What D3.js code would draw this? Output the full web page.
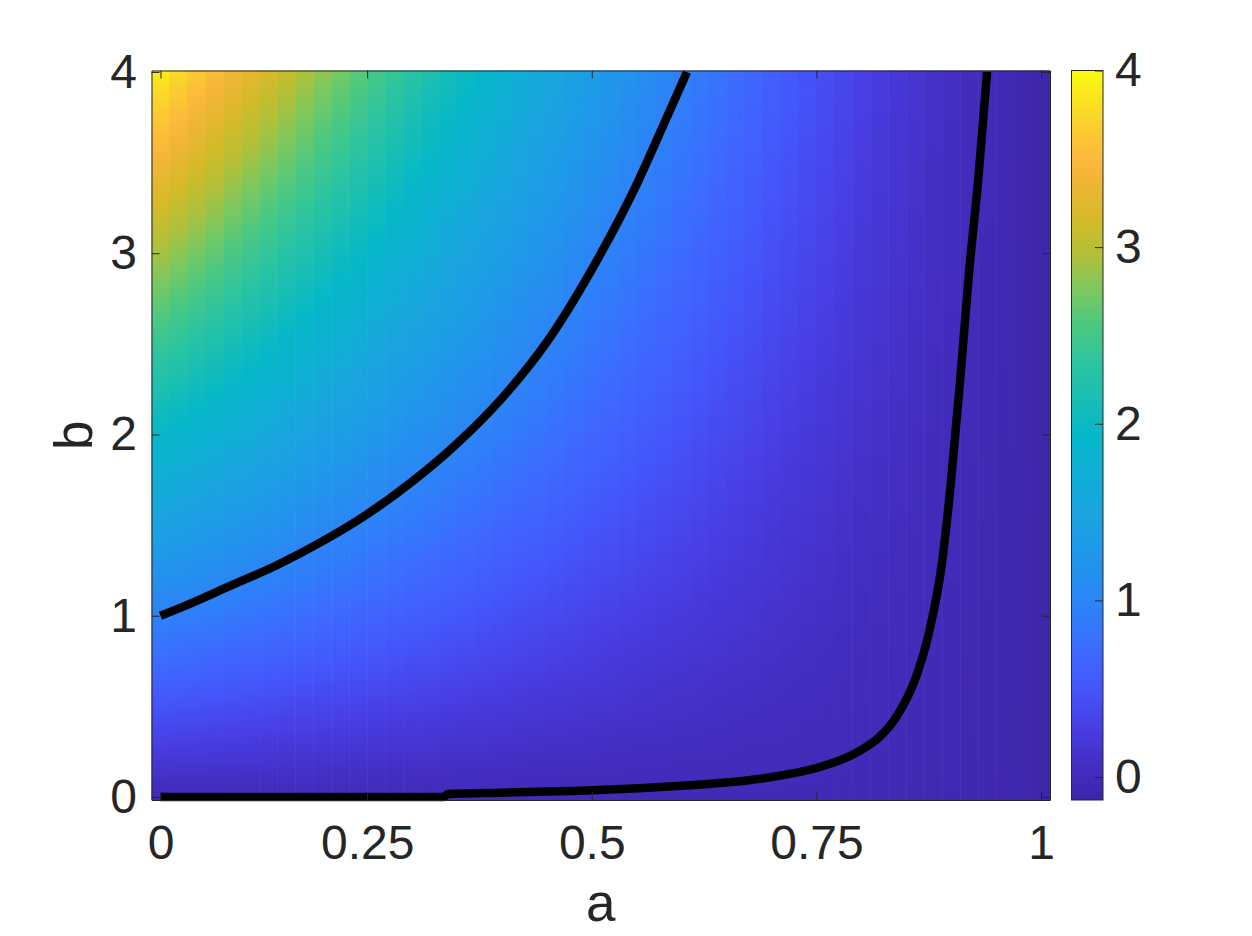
<!DOCTYPE html>
<html>
<head>
<meta charset="utf-8">
<title>a-b map</title>
<script src="https://cdn.jsdelivr.net/npm/d3@7"></script>
<style>
  body { margin: 0; background: #fff; }
  svg text { font-family: "Liberation Sans", Arial, Helvetica, sans-serif; fill: #262626; }
</style>
</head>
<body>
<script>

// grid where the map values were read: a across, b up
var aGrid = [0.02, 0.1, 0.2, 0.3, 0.4, 0.5, 0.6, 0.7, 0.8, 0.9, 1.0];
var bGrid = [0, 0.5, 1, 1.5, 2, 2.5, 3, 3.5, 4];

// one row per b value, one entry per a value
var zRows = [
  [0.00, 0.00, 0.00, 0.00, -0.01, -0.01, -0.02, -0.02, -0.03, -0.05, -0.10],
  [0.48, 0.42, 0.35, 0.29,  0.22,  0.16,  0.11,  0.06,  0.01, -0.03, -0.10],
  [0.97, 0.85, 0.71, 0.58,  0.45,  0.33,  0.23,  0.14,  0.05, -0.02, -0.10],
  [1.45, 1.27, 1.06, 0.86,  0.67,  0.50,  0.35,  0.21,  0.09,  0.00, -0.10],
  [1.94, 1.70, 1.42, 1.15,  0.90,  0.67,  0.47,  0.29,  0.13,  0.01, -0.10],
  [2.42, 2.12, 1.77, 1.44,  1.13,  0.84,  0.59,  0.37,  0.18,  0.03, -0.10],
  [2.91, 2.55, 2.12, 1.73,  1.35,  1.01,  0.71,  0.45,  0.22,  0.04, -0.10],
  [3.39, 2.97, 2.48, 2.01,  1.58,  1.18,  0.83,  0.52,  0.26,  0.05, -0.10],
  [3.88, 3.40, 2.83, 2.30,  1.81,  1.35,  0.95,  0.60,  0.30,  0.07, -0.10]
];

// the two black curves, as (a, b) points
var curveOne = [[0.02, 1.0], [0.05, 1.06], [0.1, 1.17], [0.15, 1.28], [0.2, 1.41],
  [0.25, 1.56], [0.3, 1.74], [0.35, 1.95], [0.4, 2.2], [0.45, 2.51], [0.5, 2.91],
  [0.55, 3.38], [0.58, 3.71], [0.606, 4.0]];
var curveZero = [[0.02, 0], [0.335, 0], [0.34, 0.017], [0.4, 0.024], [0.5, 0.037],
  [0.6, 0.062], [0.65, 0.08], [0.7, 0.11], [0.75, 0.16], [0.78, 0.21], [0.8, 0.26],
  [0.82, 0.33], [0.84, 0.45], [0.86, 0.65], [0.875, 0.9], [0.89, 1.3], [0.9, 1.75],
  [0.91, 2.3], [0.92, 2.9], [0.93, 3.4], [0.94, 4.0]];

var xTicks = [0.02, 0.25, 0.5, 0.75, 1];
var xTickLabels = ["0", "0.25", "0.5", "0.75", "1"];
var yTicks = [0, 1, 2, 3, 4];
var cTicks = [0, 1, 2, 3, 4];
var cLimits = [-0.13, 4];

// parula-like colour stops (position 0..1 along the colour bar)
var cmapPos = [0, 0.05, 0.10, 0.15, 0.20, 0.25, 0.30, 0.35, 0.40, 0.45, 0.50,
  0.55, 0.60, 0.65, 0.70, 0.75, 0.80, 0.85, 0.88, 0.93, 1];
var cmapCol = ["rgb(62,38,168)", "rgb(68,46,195)", "rgb(72,62,228)", "rgb(68,85,250)",
  "rgb(62,105,255)", "rgb(48,125,250)", "rgb(38,142,240)", "rgb(30,155,232)",
  "rgb(25,165,222)", "rgb(15,175,212)", "rgb(5,183,200)", "rgb(25,190,180)",
  "rgb(45,196,160)", "rgb(75,200,130)", "rgb(125,200,95)", "rgb(180,192,55)",
  "rgb(215,185,40)", "rgb(240,182,55)", "rgb(252,185,60)", "rgb(250,210,45)",
  "rgb(249,251,14)"];

var W = 1252, H = 936;

var x = d3.scaleLinear().domain([0.01, 1.01]).range([151.5, 1050]);
var y = d3.scaleLinear().domain([-0.0166, 4.008]).range([800, 70.5]);
var cy = d3.scaleLinear().domain(cLimits).range([800, 70.5]);

var color = d3.scaleLinear()
    .domain(cmapPos.map(function(t){ return cLimits[0] + t * (cLimits[1] - cLimits[0]); }))
    .range(cmapCol)
    .clamp(true);

// bilinear look-up in the grid
function zAt(a, b) {
  var i = Math.min(Math.max(d3.bisectRight(aGrid, a) - 1, 0), aGrid.length - 2);
  var j = Math.min(Math.max(d3.bisectRight(bGrid, b) - 1, 0), bGrid.length - 2);
  var ta = (a - aGrid[i]) / (aGrid[i + 1] - aGrid[i]);
  var tb = (b - bGrid[j]) / (bGrid[j + 1] - bGrid[j]);
  ta = Math.max(0, Math.min(1, ta));
  tb = Math.max(0, Math.min(1, tb));
  var z0 = zRows[j][i] * (1 - ta) + zRows[j][i + 1] * ta;
  var z1 = zRows[j + 1][i] * (1 - ta) + zRows[j + 1][i + 1] * ta;
  return z0 * (1 - tb) + z1 * tb;
}

var svg = d3.select("body").append("svg")
    .attr("width", W)
    .attr("height", H);

var defs = svg.append("defs");

var plotTop = y.range()[1], plotBot = y.range()[0];

// image cells: 50 columns of width 0.02, shaded along b
var aCells = d3.range(50).map(function(i){ return +(0.02 * (i + 1)).toFixed(2); });
var bStops = d3.range(0, 4.0001, 0.05);

aCells.forEach(function(a, i) {
  var g = defs.append("linearGradient")
      .attr("id", "col" + i)
      .attr("x1", 0).attr("y1", 0).attr("x2", 0).attr("y2", 1);
  bStops.slice().reverse().forEach(function(b) {
    g.append("stop")
      .attr("offset", ((y(b) - plotTop) / (plotBot - plotTop)).toFixed(4))
      .attr("stop-color", color(zAt(a, b)));
  });
});

svg.append("g").selectAll("rect")
    .data(aCells)
    .enter()
    .append("rect")
    .attr("x", function(d){ return x(d - 0.01); })
    .attr("y", plotTop)
    .attr("width", function(d, i){ return x(d + 0.01) - x(d - 0.01) + (i < aCells.length - 1 ? 0.6 : 0); })
    .attr("height", plotBot - plotTop)
    .attr("fill", function(d, i){ return "url(#col" + i + ")"; });

// black curves
var line = d3.line()
    .x(function(d){ return x(d[0]); })
    .y(function(d){ return y(d[1]); })
    .curve(d3.curveMonotoneX);

svg.append("g").selectAll("path")
    .data([curveOne, curveZero])
    .enter()
    .append("path")
    .attr("d", line)
    .attr("fill", "none")
    .attr("stroke", "#000")
    .attr("stroke-width", 8.5)
    .attr("stroke-linejoin", "round")
    .attr("stroke-linecap", "butt");

// axes, ticks pointing inwards
function styleAxis(g) {
  g.select(".domain").attr("stroke", "#262626").attr("stroke-width", 1);
  g.selectAll(".tick line").attr("stroke", "#262626").attr("stroke-width", 1);
  g.selectAll("text").attr("fill", "#262626");
  g.attr("font-size", 48).attr("font-family", null);
}

svg.append("g")
    .attr("transform", "translate(0," + plotBot + ")")
    .call(d3.axisBottom(x).tickValues(xTicks)
      .tickFormat(function(d, i){ return xTickLabels[i]; })
      .tickSize(-8).tickSizeOuter(0).tickPadding(25))
    .call(styleAxis);

svg.append("g")
    .attr("transform", "translate(0," + plotTop + ")")
    .call(d3.axisTop(x).tickValues(xTicks).tickFormat("")
      .tickSize(-8).tickSizeOuter(0))
    .call(styleAxis);

svg.append("g")
    .attr("transform", "translate(151.5,0)")
    .call(d3.axisLeft(y).tickValues(yTicks).tickFormat(d3.format("d"))
      .tickSize(-8).tickSizeOuter(0).tickPadding(14.5))
    .call(styleAxis);

svg.append("g")
    .attr("transform", "translate(1050,0)")
    .call(d3.axisRight(y).tickValues(yTicks).tickFormat("")
      .tickSize(-8).tickSizeOuter(0))
    .call(styleAxis);

// axis titles
svg.append("text")
    .attr("x", (x.range()[0] + x.range()[1]) / 2)
    .attr("y", 921)
    .attr("text-anchor", "middle")
    .attr("font-size", 53)
    .text("a");

svg.append("text")
    .attr("transform", "translate(92," + ((plotTop + plotBot) / 2) + ") rotate(-90)")
    .attr("text-anchor", "middle")
    .attr("font-size", 53)
    .text("b");

// colour bar
var cbX0 = 1071.5, cbX1 = 1103;
var cg = defs.append("linearGradient")
    .attr("id", "cbar")
    .attr("x1", 0).attr("y1", 1).attr("x2", 0).attr("y2", 0);
cmapPos.forEach(function(t, i) {
  cg.append("stop").attr("offset", t).attr("stop-color", cmapCol[i]);
});

svg.append("rect")
    .attr("x", cbX0)
    .attr("y", cy.range()[1])
    .attr("width", cbX1 - cbX0)
    .attr("height", cy.range()[0] - cy.range()[1])
    .attr("fill", "url(#cbar)")
    .attr("stroke", "#262626")
    .attr("stroke-width", 1);

svg.append("g")
    .attr("transform", "translate(" + cbX1 + ",0)")
    .call(d3.axisRight(cy).tickValues(cTicks).tickFormat(d3.format("d"))
      .tickSize(-8).tickSizeOuter(0).tickPadding(12))
    .call(styleAxis)
    .call(function(g){ g.select(".domain").remove(); });

</script>
</body>
</html>
